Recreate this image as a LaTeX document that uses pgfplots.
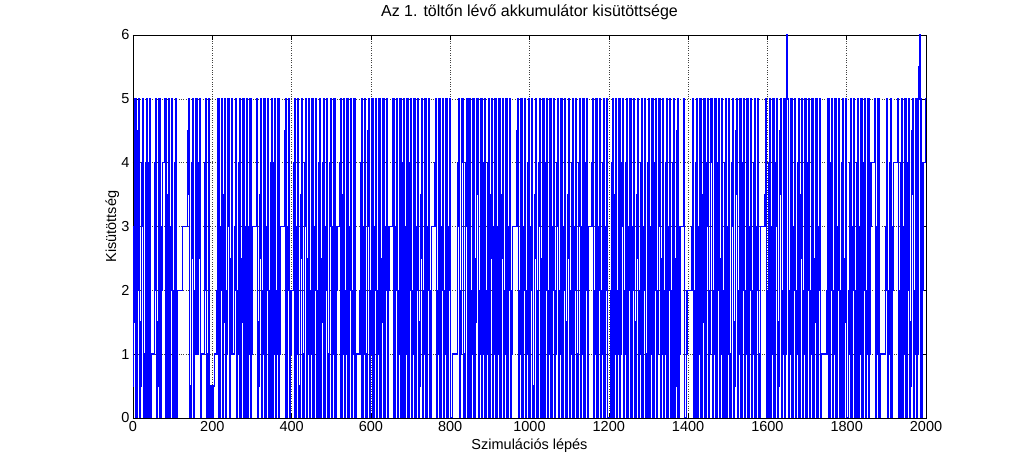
\documentclass[border=0pt]{standalone}
\usepackage{fontspec}
\setmainfont{Liberation Sans}
\usepackage{pgfplots}
\pgfplotsset{compat=1.18}
\definecolor{mblue}{RGB}{0,0,255}
\newcommand{\chartfont}{\fontsize{14.5}{17}\selectfont}
\newcommand{\titlefont}{\fontsize{16}{19}\selectfont}

\begin{document}
\begin{tikzpicture}
  \begin{axis}[
      width=793pt, height=383pt, scale only axis,
      xmin=0, xmax=2000, ymin=0, ymax=6,
      xtick={0,200,...,2000}, ytick={0,1,...,6},
      grid=major,
      major grid style={dotted, black!75, line width=0.5pt},
      tick align=inside, major tick length=5pt,
      tick style={black, line width=0.5pt},
      axis line style={black, line width=0.5pt},
      tick label style={font=\chartfont},
      /pgf/number format/assume math mode=true,
      /pgf/number format/set thousands separator={},
      title={Az 1. töltőn lévő akkumulátor kisütöttsége},
      title style={at={(axis description cs:0.5,1)}, anchor=base,
        yshift=12pt, inner sep=0pt, font=\titlefont},
      xlabel={Szimulációs lépés},
      xlabel style={at={(axis description cs:0.5,0)}, anchor=base,
        yshift=-32pt, inner sep=0pt, font=\chartfont},
      ylabel={Kisütöttség},
      ylabel style={at={(axis description cs:-0.0214,0.5)}, anchor=base,
        inner sep=0pt, font=\chartfont},
    ]
    \addplot[const plot, mblue, line width=1.5pt] coordinates {
      (0,0.5)(1,1.5)(2,2)(3,3)(4,4)(5,5)(7,0)
      (10,1)(11,2)(12,3.5)(13,4.5)(14,5)(16,0)
      (19,0.5)(20,1.5)(21,2.5)(22,3)(23,4)(24,5)(27,0)
      (30,1)(31,2)(32,3)(33,4)(34,5)(35,0)
      (38,1)(39,2.5)(40,4)(41,5)(43,0)
      (46,1)(54,2)(55,3)(56,4)(57,5)(59,0)
      (62,0.5)(63,1.5)(64,2.5)(65,4)(66,5)(68,0)
      (71,1)(72,2)(73,3)(74,4)(80,4.5)(81,5)(83,0)
      (86,1)(87,2.5)(88,3.5)(89,5)(91,0)
      (94,1)(95,2)(96,3)(97,4)(98,5)(100,0)
      (103,1)(104,2)(105,3)(106,4)(107,5)(109,0)
      (111,1)(112,2)(125,3)(138,3.5)(139,4.5)(140,5)(142,0)
      (146,0.5)(147,1.5)(148,2.5)(149,4)(150,5)(152,0)
      (155,1)(156,2)(157,3)(158,4)(159,5)(161,1)(164,1.5)(165,2.5)(166,3)(167,4)(168,5)(170,0)
      (172,1)(180,2)(181,3)(182,4)(183,4.5)(184,5)(186,0)
      (189,1)(190,2)(191,3)(192,5)(193,0)
      (197,0.5)(200,0)(203,0.5)(206,1)(212,2)(213,3)(214,4)(215,5)(217,0)
      (220,1)(221,2)(222,3)(223,4)(224,5)(226,0)
      (228,1.5)(229,2.5)(230,3.5)(231,5)(233,0)
      (236,1)(237,2)(238,3)(239,4)(240,5)(243,0)
      (246,1)(247,2.5)(248,4)(249,5)(250,1)(256,2)(257,3)(258,4.5)(259,5)(261,0)
      (264,1)(265,2)(266,3)(267,4)(268,5)(270,0)
      (273,0.5)(274,1.5)(275,2.5)(276,3.5)(277,4.5)(278,5)(280,0)
      (283,1)(284,2)(285,3)(286,4)(287,5)(288,0)
      (291,1)(292,2.5)(293,3)(294,4)(295,5)(297,0)
      (299,1)(300,2)(301,3)(311,4)(312,5)(314,0)
      (317,0.5)(318,1.5)(319,2.5)(320,3.5)(321,4.5)(322,5)(324,0)
      (327,1)(328,2)(329,3)(330,4)(331,5)(333,0)
      (336,1)(337,2)(338,3)(339,4)(340,5)(342,0)
      (345,1)(346,2)(347,3)(348,4)(349,5)(351,0)
      (354,1)(355,2.5)(356,4)(357,5)(359,0)
      (362,1)(363,2)(364,3)(365,4)(366,5)(368,0)
      (370,1)(371,2)(372,3)(382,3.5)(383,4.5)(384,5)(386,0)
      (389,1)(390,2)(391,3)(392,4)(393,5)(395,0)
      (397,1)(398,2)(405,3)(406,4)(407,5)(409,0)
      (412,1)(413,2)(414,3)(415,4)(416,5)(418,0)
      (421,0.5)(422,1.5)(423,2.5)(424,3.5)(425,4.5)(426,5)(428,0)
      (431,1)(432,2)(433,3)(434,4)(435,5)(437,0)
      (440,1)(441,2.5)(442,3.5)(443,5)(445,0)
      (448,1)(449,2)(450,3)(451,4)(452,5)(454,0)
      (457,1)(458,2)(459,3)(460,4)(461,5)(463,0)
      (466,1)(467,2)(468,3)(469,4)(470,5)(472,0)
      (475,0.5)(476,1.5)(477,2.5)(478,3)(479,4)(480,5)(482,0)
      (485,1)(486,2)(487,3)(488,4)(489,5)(491,0)
      (494,1)(495,2)(496,3)(497,4)(498,5)(500,0)
      (503,1)(504,2)(505,3)(506,4)(507,5)(509,0)
      (512,1)(513,2)(514,3)(522,4)(523,5)(525,0)
      (528,1)(529,2.5)(530,3.5)(531,5)(533,0)
      (536,1)(537,2)(538,3)(539,4)(540,5)(542,0)
      (545,1)(546,2)(547,3)(548,4)(549,5)(551,0)
      (554,1)(555,2)(556,3)(557,4)(558,5)(560,0)
      (562,1)(573,2)(574,3)(575,4)(576,5)(578,0)
      (581,1)(582,2)(583,3)(584,4)(585,5)(587,0)
      (590,1)(591,2)(592,3)(593,4.5)(594,5)(596,0)
      (599,1)(600,2)(601,3)(602,4)(603,5)(605,0)
      (608,1)(609,2)(610,3)(611,4)(612,5)(614,0)
      (617,1)(618,2)(619,3)(620,4)(621,5)(623,0)
      (626,0.5)(627,1.5)(628,2.5)(629,3.5)(630,4.5)(631,5)(633,0)
      (636,1)(637,2)(638,3)(639,4)(640,5)(642,0)
      (644,1)(645,2)(646,3)(655,4)(656,5)(658,0)
      (661,1)(662,2)(663,3)(664,4)(665,5)(667,0)
      (670,1)(671,2)(672,3)(673,4)(674,5)(676,0)
      (679,1)(680,2.5)(681,4)(682,5)(684,0)
      (687,1)(688,2)(689,3)(690,4)(691,5)(693,0)
      (696,1)(697,2)(698,3)(699,4)(700,5)(702,0)
      (705,1)(706,2)(707,3)(708,4)(709,5)(711,0)
      (714,1)(715,2)(716,3)(717,4)(718,5)(720,0)
      (723,0.5)(724,1.5)(725,2.5)(726,3.5)(727,4.5)(728,5)(730,0)
      (733,1)(734,2)(735,3)(736,4)(737,5)(739,0)
      (742,1)(743,2)(744,3)(745,4)(746,5)(748,0)
      (751,1)(752,2)(753,3)(762,4)(763,5)(765,0)
      (768,1)(769,2)(770,3)(771,4)(772,5)(774,0)
      (777,1)(778,2)(779,3)(780,4)(781,5)(783,0)
      (786,1)(787,2)(788,3)(789,4)(790,5)(792,0)
      (795,1)(796,2)(797,3)(798,4)(799,5)(801,0)
      (806,1)(818,2)(819,3)(820,4)(821,5)(823,0)
      (826,1)(827,2)(828,3)(829,4)(830,5)(833,0)
      (837,1)(838,2)(839,3)(840,4)(841,5)(843,0)
      (845,1)(846,2.5)(847,3.5)(848,5)(850,0)
      (854,1)(855,2)(856,3)(857,4)(858,5)(860,0)
      (863,0.5)(864,1.5)(865,2.5)(866,3.5)(867,4.5)(868,5)(871,0)
      (874,1)(875,2)(876,3)(877,4)(878,5)(880,0)
      (882,1)(883,2)(884,3)(885,4)(886,5)(888,0)
      (892,1)(893,2)(894,3)(895,4)(896,5)(898,0)
      (901,1)(902,2.5)(903,3.5)(904,4.5)(905,5)(907,0)
      (909,1)(910,2)(911,3)(912,4)(913,5)(916,0)
      (919,1)(920,2)(921,3)(922,4)(923,5)(925,0)
      (928,0.5)(929,1.5)(930,2.5)(931,3.5)(932,5)(934,0)
      (937,1)(938,2)(939,3)(940,4)(941,5)(943,0)
      (946,1)(947,2)(948,3)(949,4)(950,5)(952,0)
      (955,1)(956,2)(957,3)(968,3.5)(969,4.5)(970,5)(972,0)
      (975,1)(976,2)(977,3)(978,4)(979,5)(981,0)
      (984,1)(985,2)(986,3)(987,4)(988,5)(990,0)
      (993,1)(994,2)(995,3)(996,4)(997,5)(999,0)
      (1002,1)(1003,2)(1004,3)(1005,4)(1006,5)(1008,0)
      (1011,0.5)(1012,1.5)(1013,2.5)(1014,3.5)(1015,4.5)(1016,5)(1018,0)
      (1021,1)(1022,2)(1023,3)(1024,4)(1025,5)(1028,0)
      (1031,1)(1032,2.5)(1033,4)(1034,5)(1036,0)
      (1039,1)(1040,2)(1041,3)(1042,4)(1043,5)(1045,0)
      (1048,1)(1049,2)(1050,3)(1051,4)(1052,5)(1054,0)
      (1057,1)(1058,2)(1059,3)(1060,4)(1061,5)(1063,0)
      (1066,1)(1067,2)(1068,3)(1069,4)(1070,5)(1073,0)
      (1076,1)(1077,2)(1078,3)(1079,4)(1080,5)(1082,0)
      (1085,1)(1086,2)(1087,3)(1088,4)(1089,5)(1091,0)
      (1094,0.5)(1095,1.5)(1096,2.5)(1097,3.5)(1098,4.5)(1099,5)(1101,0)
      (1104,1)(1105,2)(1106,3)(1107,4)(1108,5)(1110,0)
      (1113,1)(1114,2)(1115,3)(1116,4)(1117,5)(1119,0)
      (1122,1)(1123,2)(1124,3)(1125,4)(1126,5)(1128,0)
      (1131,1)(1132,2)(1133,3)(1134,4)(1135,5)(1137,0)
      (1140,1)(1141,2)(1142,3)(1143,4)(1144,5)(1146,0)
      (1147,1)(1148,2)(1149,3)(1158,4)(1159,5)(1161,0)
      (1164,1)(1165,2)(1166,3)(1167,4)(1168,5)(1170,0)
      (1173,1)(1174,2)(1175,3)(1176,4)(1177,5)(1179,0)
      (1182,1)(1183,2)(1184,3)(1185,4)(1186,5)(1188,0)
      (1191,1)(1192,2)(1193,3)(1194,4)(1195,5)(1197,0)
      (1205,1)(1206,2)(1207,3)(1208,4)(1209,5)(1211,0)
      (1214,1)(1215,2.5)(1216,3.5)(1217,5)(1219,0)
      (1222,1)(1223,2)(1224,3)(1225,4)(1226,5)(1228,0)
      (1230,1)(1231,2)(1232,3)(1233,4)(1234,4.5)(1235,5)(1237,0)
      (1240,1)(1241,2)(1242,3)(1243,4)(1244,5)(1246,0)
      (1249,1)(1250,2)(1251,3)(1252,4)(1253,5)(1256,0)
      (1259,1)(1260,2)(1261,3)(1262,4)(1263,5)(1265,0)
      (1268,0.5)(1269,1.5)(1270,2.5)(1271,3.5)(1272,4.5)(1273,5)(1275,0)
      (1278,1)(1279,2)(1280,3)(1281,4)(1282,5)(1284,0)
      (1287,1)(1288,2)(1289,3)(1290,4)(1291,5)(1293,0)
      (1296,1)(1297,2)(1298,3)(1299,4)(1300,5)(1302,0)
      (1305,1)(1306,2)(1307,3)(1308,4)(1309,5)(1311,0)
      (1314,1)(1315,2)(1316,3)(1317,4)(1318,5)(1320,0)
      (1323,1)(1324,2)(1325,3)(1326,4)(1327,5)(1330,0)
      (1333,1)(1334,2.5)(1335,4)(1336,5)(1338,0)
      (1341,1)(1342,2)(1343,3)(1344,4)(1345,5)(1347,0)
      (1350,1)(1351,2)(1352,3)(1353,4)(1354,5)(1356,0)
      (1359,1)(1360,2)(1361,3)(1362,4)(1363,5)(1365,0)
      (1368,0.5)(1369,1.5)(1370,2.5)(1371,3.5)(1372,4.5)(1373,5)(1375,0)
      (1378,1)(1379,2)(1380,3)(1388,4)(1389,5)(1391,0)
      (1396,1)(1397,2)(1410,3)(1411,4)(1412,5)(1414,0)
      (1417,1)(1418,2)(1419,3)(1420,4)(1421,5)(1423,0)
      (1426,1)(1427,2)(1428,3)(1429,4)(1430,5)(1432,0)
      (1435,0.5)(1436,1.5)(1437,2.5)(1438,3.5)(1439,4.5)(1440,5)(1442,0)
      (1445,1)(1446,2)(1447,3)(1448,4)(1449,5)(1451,0)
      (1454,1)(1455,2)(1456,3)(1457,4)(1458,5)(1461,0)
      (1464,1)(1465,2)(1466,3)(1467,4)(1468,5)(1470,0)
      (1473,1)(1474,2)(1475,3)(1476,4)(1477,5)(1479,0)
      (1482,1)(1483,2.5)(1484,3.5)(1485,5)(1487,0)
      (1490,1)(1491,2)(1492,3)(1493,4)(1494,5)(1496,0)
      (1499,1)(1500,2)(1501,3)(1502,4)(1503,5)(1505,0)
      (1508,1)(1509,2)(1510,3)(1511,4)(1512,5)(1514,0)
      (1517,0.5)(1518,1.5)(1519,2.5)(1520,3.5)(1521,4.5)(1522,5)(1524,0)
      (1527,1)(1528,2)(1529,3)(1530,4)(1531,5)(1533,0)
      (1536,1)(1537,2)(1538,3)(1539,4)(1540,5)(1542,0)
      (1545,1)(1546,2)(1547,3)(1548,4)(1549,5)(1551,0)
      (1554,1)(1555,2)(1556,3)(1557,4)(1558,5)(1560,0)
      (1563,1)(1564,2)(1565,3)(1566,4)(1567,5)(1569,0)
      (1572,1)(1573,2)(1574,3)(1575,4)(1576,5)(1578,0)
      (1581,1)(1582,2)(1583,3)(1594,3.5)(1595,4.5)(1596,5)(1598,0)
      (1601,1)(1602,2)(1603,3)(1604,4)(1605,5)(1607,0)
      (1610,1)(1611,2)(1612,3)(1613,4)(1614,5)(1616,0)
      (1619,1)(1620,2)(1621,3)(1622,4)(1623,5)(1625,0)
      (1628,0.5)(1629,1.5)(1630,2.5)(1631,3.5)(1632,4.5)(1633,5)(1635,0)
      (1638,1)(1639,2)(1640,3)(1641,4)(1642,5)(1644,0)
      (1646,1)(1647,3)(1648,5)(1649,6)(1651,5)(1653,0)
      (1656,1)(1657,2)(1658,3)(1659,4)(1660,5)(1662,0)
      (1665,1)(1666,2)(1667,3)(1668,4)(1669,5)(1671,0)
      (1674,1)(1675,2)(1676,3)(1677,4)(1678,5)(1680,0)
      (1683,1)(1684,2.5)(1685,3.5)(1686,5)(1688,0)
      (1691,1)(1692,2)(1693,3)(1694,4)(1695,5)(1697,0)
      (1700,1)(1701,2)(1702,3)(1703,4)(1704,5)(1706,0)
      (1709,1)(1710,2)(1711,3)(1712,4)(1713,5)(1715,0)
      (1718,0.5)(1719,1.5)(1720,2.5)(1721,3.5)(1722,4.5)(1723,5)(1725,0)
      (1728,1)(1729,2)(1730,3)(1731,4)(1732,5)(1734,0)
      (1737,1)(1750,2)(1751,3)(1752,4)(1753,5)(1755,0)
      (1758,1)(1759,2)(1760,3)(1761,4)(1762,5)(1764,0)
      (1767,1)(1768,2)(1769,3)(1770,4)(1771,5)(1773,0)
      (1776,1)(1777,2)(1778,3)(1779,4)(1780,5)(1782,0)
      (1785,1)(1786,2)(1787,3)(1788,4)(1789,5)(1791,0)
      (1794,0.5)(1795,1.5)(1796,2.5)(1797,3.5)(1798,5)(1800,0)
      (1805,1)(1806,2)(1807,3)(1808,4)(1809,5)(1811,0)
      (1814,1)(1815,2)(1816,3)(1817,4)(1818,5)(1820,0)
      (1823,1)(1824,2)(1825,3)(1826,4)(1827,5)(1829,0)
      (1832,1)(1833,2)(1834,3)(1835,4)(1836,5)(1838,0)
      (1841,1)(1842,2)(1843,3)(1844,4)(1845,5)(1847,0)
      (1850,1)(1851,2)(1852,3)(1853,4)(1854,5)(1856,0)
      (1858,1)(1859,2)(1860,3)(1861,4)(1870,5)(1872,0)
      (1875,1)(1876,2)(1877,3)(1878,4)(1879,5)(1881,0)
      (1884,1)(1898,2)(1899,3)(1900,4)(1901,5)(1903,0)
      (1906,1)(1907,2)(1908,3)(1909,4)(1910,5)(1912,0)
      (1915,1)(1916,2)(1917,3)(1918,4)(1928,4.5)(1929,5)(1931,0)
      (1934,1)(1935,2)(1936,3)(1937,4)(1938,5)(1940,0)
      (1943,1)(1944,2)(1945,3)(1946,4)(1947,5)(1949,0)
      (1952,1)(1953,2)(1954,3)(1955,4)(1956,5)(1958,0)
      (1961,0.5)(1962,1.5)(1963,2.5)(1964,3.5)(1965,4.5)(1966,5)(1968,0)
      (1971,1)(1972,2)(1973,3)(1974,4)(1975,5)(1977,0)
      (1979,1)(1980,3)(1981,5)(1982,5.5)(1984,6)(1986,5)(1988,0)
      (1990,1)(1991,2)(1992,3)(1993,4)(1999,5)(2000,5)
    };
  \end{axis}
  \pgfresetboundingbox
  \path (current axis.south west) ++(-133pt,-52pt) rectangle ++(1023pt,470pt);
\end{tikzpicture}
\end{document}
